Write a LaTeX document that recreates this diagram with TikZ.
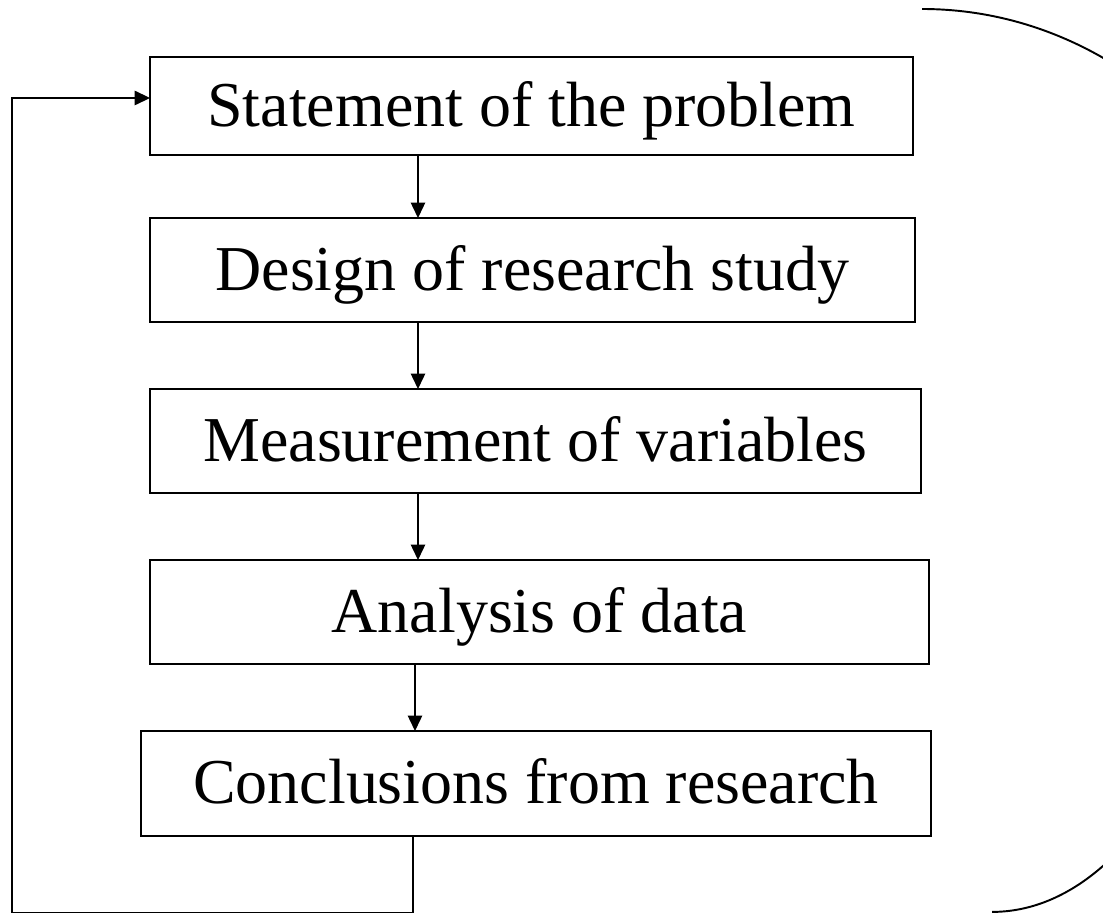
\documentclass[tikz,border=0pt]{standalone}
\usepackage{fontspec}
\setmainfont{Liberation Serif}
\usetikzlibrary{arrows.meta}
\begin{document}
\begin{tikzpicture}[x=0.02cm,y=-0.02cm,
  stage/.style={draw, line width=1pt, inner sep=0pt, outer sep=0pt,
    text height=0.82cm, text depth=0pt,
    font=\fontsize{36.4}{40}\selectfont, align=center},
  flow/.style={line width=0.8pt, -{Triangle[length=0.31cm,width=0.29cm]}},
  plain/.style={line width=0.8pt}]
\useasboundingbox (0,0) rectangle (1103,915);
\clip (0,0) rectangle (1103,915);

% process stages
\node[stage, minimum width=15.26cm, minimum height=1.96cm] (b1) at (531.5,106) {Statement of the problem};
\node[stage, minimum width=15.30cm, minimum height=2.08cm] (b2) at (532.5,270) {Design of research study};
\node[stage, minimum width=15.42cm, minimum height=2.08cm] (b3) at (535.5,441) {Measurement of variables};
\node[stage, minimum width=15.58cm, minimum height=2.08cm] (b4) at (539.5,612) {Analysis of data};
\node[stage, minimum width=15.80cm, minimum height=2.10cm] (b5) at (536,783.5) {Conclusions from research};

% vertical guides for the connectors
\coordinate (ax) at (418,0);
\coordinate (ay) at (415,0);
\coordinate (fx) at (413,0);
\coordinate (fb) at (413,912.5);
\coordinate (fl) at (12,912.5);
\coordinate (ft) at (12,98);

\draw[flow] (b1.south -| ax) -- (b2.north -| ax);
\draw[flow] (b2.south -| ax) -- (b3.north -| ax);
\draw[flow] (b3.south -| ax) -- (b4.north -| ax);
\draw[flow] (b4.south -| ay) -- (b5.north -| ay);

% feedback loop back to the first stage
\draw[flow] (b5.south -| fx) -- (fb) -- (fl) -- (ft) -- (ft -| b1.west);

% enclosing bracket on the right
\draw[line width=1.1pt] (922,9) arc[start angle=90, end angle=0, x radius=8cm, y radius=9.04cm]
  -- (1244,461) arc[start angle=0, end angle=-90, x radius=5.04cm, y radius=9.02cm];
\end{tikzpicture}
\end{document}
